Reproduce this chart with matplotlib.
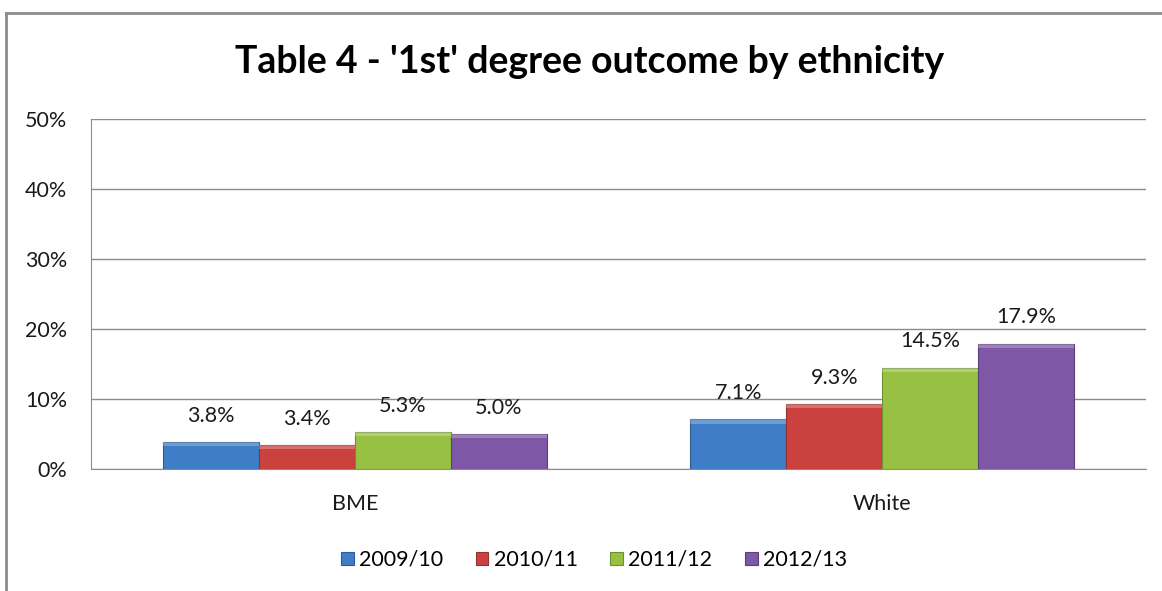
import matplotlib
matplotlib.use("Agg")
import matplotlib.pyplot as plt
from matplotlib.lines import Line2D
from matplotlib.patches import Rectangle
import numpy as np

plt.rcParams['font.family'] = ['Lato', 'DejaVu Sans']

categories = ["BME", "White"]
series_names = ["2009/10", "2010/11", "2011/12", "2012/13"]
values = {
    "2009/10": [3.8, 7.1],
    "2010/11": [3.4, 9.3],
    "2011/12": [5.3, 14.5],
    "2012/13": [5.0, 17.9],
}
colors = ["#3F7DC6", "#CB413E", "#98C144", "#7E58A6"]
edge_colors = ["#2C5C95", "#933230", "#6E8E30", "#5A3F7A"]
yticks = [0, 10, 20, 30, 40, 50]
title = "Table 4 - '1st' degree outcome by ethnicity"

W, H = 1162, 591
fig = plt.figure(figsize=(W / 100, H / 100), dpi=100)
ax = fig.add_axes([91 / W, 1 - 469 / H, (1146 - 91) / W, (469 - 119) / H])

FS = 15.5
x = np.arange(len(categories))
bw = 96 / 528
n = len(series_names)
for i, name in enumerate(series_names):
    offs = (i - (n - 1) / 2) * bw
    bars = ax.bar(x + offs, values[name], width=bw, color=colors[i],
                  edgecolor=edge_colors[i], linewidth=0.8, zorder=3)
    for b, v in zip(bars, values[name]):
        # lighter top bevel
        ax.add_patch(Rectangle((b.get_x(), v - min(0.6, v * 0.15)), b.get_width(),
                               min(0.6, v * 0.15), facecolor="white", alpha=0.25,
                               linewidth=0, zorder=4))
        ax.annotate(f"{v:.1f}%", (b.get_x() + b.get_width() / 2, v),
                    xytext=(0, 19), textcoords="offset points", ha="center",
                    va="center", fontsize=FS, color="#1a1a1a")

ax.set_xlim(-0.5, 1.5)
ax.set_ylim(0, 50)
ax.set_yticks(yticks)
ax.set_yticklabels([f"{t}%" for t in yticks], fontsize=FS, color="#1a1a1a")
ax.set_xticks(x)
ax.set_xticklabels(categories, fontsize=FS, color="#1a1a1a")
ax.tick_params(axis='both', length=0)
ax.tick_params(axis='y', pad=17)
ax.tick_params(axis='x', pad=18)
ax.yaxis.grid(True, color="#8c8c8c", linewidth=1.0, zorder=0)
ax.set_axisbelow(True)
for s in ["top", "right"]:
    ax.spines[s].set_visible(False)
ax.spines["left"].set_color("#8c8c8c")
ax.spines["bottom"].set_color("#8c8c8c")

fig.text(590 / W, 1 - 62 / H, title, ha="center", va="center",
         fontsize=27, fontweight="bold", color="black")

handles = [Rectangle((0, 0), 1, 1, facecolor=c, edgecolor=e, linewidth=0.8)
           for c, e in zip(colors, edge_colors)]
fig.legend(handles, series_names, loc="center", bbox_to_anchor=(594 / W, 1 - 560 / H),
           ncol=4, frameon=False, fontsize=FS, handlelength=0.6, handleheight=0.6,
           handletextpad=0.25, columnspacing=1.5)

# outer chart border (top and left visible)
fig.add_artist(Line2D([6 / W, 1], [1 - 13 / H, 1 - 13 / H], color="#8c8c8c", linewidth=2,
                      transform=fig.transFigure))
fig.add_artist(Line2D([6 / W, 6 / W], [0, 1 - 13 / H], color="#8c8c8c", linewidth=2,
                      transform=fig.transFigure))

fig.savefig("out.png", dpi=100)
